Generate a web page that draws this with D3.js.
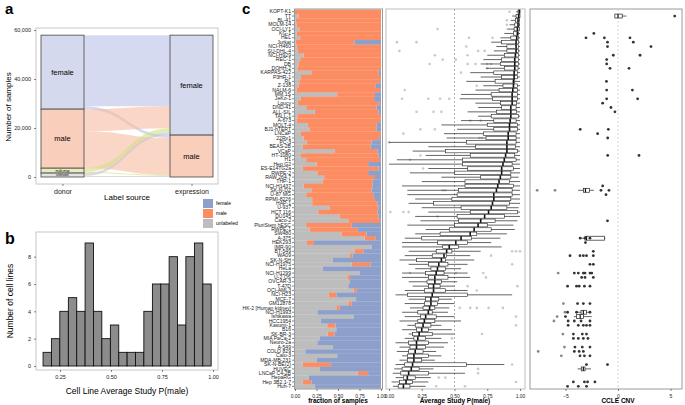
<!DOCTYPE html>
<html>
<head>
<meta charset="utf-8">
<script src="https://cdn.jsdelivr.net/npm/d3@7"></script>
<style>
  body { margin: 0; background: #fff; }
  svg { font-family: "Liberation Sans", Arial, sans-serif; }
</style>
</head>
<body>
<svg id="fig" width="685" height="405"></svg>
<script>
// ---------- panel a : alluvial of sex labels ----------
const axisSources = ["donor", "expression"];
const donorLevels = ["female", "male", "multi-map", "unknown"];
const exprLevels = ["female", "male"];
const flowFrom = ["female", "female", "male", "male", "multi-map", "multi-map", "unknown", "unknown"];
const flowTo = ["female", "male", "female", "male", "female", "male", "female", "male"];
const flowValue = [29000, 1200, 9000, 15100, 1600, 400, 1200, 400];
const aTicks = [0, 20000, 40000, 60000];

// ---------- panel b : histogram ----------
const binEdges = [0.167, 0.208, 0.249, 0.291, 0.332, 0.373, 0.414, 0.455, 0.497, 0.538, 0.579,
                  0.620, 0.661, 0.703, 0.744, 0.785, 0.826, 0.867, 0.909, 0.950, 0.991];
const binCounts = [1, 2, 4, 5, 4, 9, 4, 2, 3, 1, 1, 1, 4, 6, 6, 8, 3, 8, 9, 6];
const bXTicks = [0.25, 0.50, 0.75, 1.00];
const bYTicks = [0, 2, 4, 6, 8];

// ---------- panel c : per cell line ----------
const cellLines = ["KOPT-K1","TT","BL-41","MOLM-14","OCI-LY1","KG-1","HEL","Jurkat","NCI-H460","SU-DHL-4",
  "NCI-H929","REC-1","DB","DOHH-2","KARPAS-422","P3HR-1","RL","Z-138","NALM-6","MM.1S",
  "JeKo-1","Loucy","DND-41","ALL-SIL","TALL-1","A-673","MOLT-4","BJ1-hTERT","LNCaP","22Rv1",
  "PC-3","BEAS-2B","VCaP","HT-1080","H1","Hep G2","ES-E14TG2a","RWPE-2","RAW 264.7","THP-1",
  "NCI-H1437","SK-N-DZ","U-87 MG","RPMI-8226","HAP-1","U-937","HCT 116","DU145","Caco-2","PluriStem hESC",
  "RWPE-1","SW480","A-375","HEK293","IMR-90","BT-549","WA09","SK-N-SH","NCI-H1975","HeLa",
  "NCI-H1299","U-2 OS","OVCAR-3","T-47D","OCI-AML3","NCI-H23","MCF-7","GM12878","HK-2 [Human kidney]","NCI-H1993",
  "Ishikawa","HCC1954","Kasumi-1","B16","SK-BR-3","MIA PaCa-2","Neuro-2a","A-549","COLO 829","Calu-3",
  "MDA-MB-231","SK-N-BE(2)","HUVEC","LNCaP C4-2B","HepaRG","Hep 3B2.1-7","Huh-7"];

const fracUnlabeled = [.00,.04,.01,.02,.05,.02,.06,.01,.02,.03, .10,.06,.04,.03,.19,.07,.05,.04,.02,.49,
  .07,.03,.13,.23,.03,.02,.15,.17,.07,.10, .14,.09,.46,.07,.13,.25,.09,.26,.34,.32,
  .10,.19,.13,.20,.20,.40,.27,.52,.62,.13, .17,.54,.81,.14,.89,.69,.64,.44,.66,.32,
  .75,.61,.64,.62,.68,.39,.71,.62,.48,.26, .68,.30,.375,.48,.38,.29,.26,.44,.12,.49,
  .25,.09,.29,.73,.16,.09,.23];
const fracMale = [1.00,.96,.99,.98,.95,.98,.94,.68,.98,.97, .90,.94,.96,.97,.78,.93,.94,.90,.97,.44,
  .85,.95,.82,.74,.97,.97,.80,.78,.93,.88, .75,.79,.50,.90,.86,.60,.88,.59,.59,.58,
  .80,.70,.78,.73,.76,.57,.69,.45,.37,.53, .56,.29,.13,.08,.00,.11,.03,.00,.22,.00,
  .00,.03,.00,.00,.04,.09,.00,.04,.04,.00, .00,.00,.095,.00,.08,.00,.00,.00,.00,.00,
  .00,.33,.00,.12,.00,.10,.00];
const fracFemale = [0,0,0,0,0,0,0,.31,0,0, 0,0,0,0,.03,0,.01,.06,.01,.07,
  .08,.02,.05,.03,0,.01,.05,.05,0,.02, .11,.12,.04,.03,.01,.15,.03,.15,.07,.10,
  .10,.11,.09,.07,.04,.03,.04,.03,.01,.34, .27,.17,.06,.78,.11,.20,.33,.56,.12,.68,
  .25,.36,.36,.38,.28,.52,.29,.34,.48,.74, .32,.70,.53,.52,.54,.71,.74,.56,.88,.51,
  .75,.58,.71,.15,.84,.81,.77];

const boxLo = [.97,.94,.93,.92,.90,.88,.85,.78,.82,.80, .75,.72,.70,.74,.62,.70,.59,.72,.66,.55,
  .54,.66,.68,.60,.68,.55,.40,.52,.42,.44, .00,.30,.18,.28,.06,.00,.30,.16,.40,.25,
  .10,.14,.14,.20,.15,.25,.30,.20,.24,.14, .28,.20,.12,.10,.10,.15,.12,.08,.15,.20,
  .10,.10,.15,.18,.12,.05,.15,.12,.16,.10, .12,.08,.14,.10,.15,.12,.05,.08,.06,.10,
  .08,.05,.04,.03,.05,.02,.03];
const boxQ1 = [.985,.97,.965,.96,.955,.95,.93,.86,.90,.90, .88,.86,.85,.88,.80,.86,.81,.87,.84,.78,
  .79,.85,.86,.82,.78,.80,.75,.80,.72,.74, .59,.66,.43,.62,.56,.56,.60,.50,.70,.58,
  .58,.53,.52,.48,.34,.55,.62,.52,.53,.50, .46,.39,.25,.37,.41,.36,.33,.21,.30,.32,
  .28,.30,.29,.30,.27,.14,.28,.27,.26,.22, .24,.22,.20,.21,.18,.19,.15,.16,.15,.14,
  .14,.12,.10,.09,.11,.08,.07];
const boxMed = [.995,.99,.985,.985,.98,.98,.975,.97,.97,.97, .965,.96,.96,.96,.955,.955,.95,.95,.945,.94,
  .94,.94,.93,.93,.93,.925,.92,.92,.91,.91, .90,.90,.90,.89,.88,.87,.86,.86,.85,.84,
  .83,.82,.80,.80,.79,.78,.76,.73,.70,.68, .65,.62,.55,.51,.46,.44,.42,.40,.38,.37,
  .36,.35,.35,.34,.34,.33,.32,.32,.31,.30, .28,.27,.26,.25,.23,.22,.21,.21,.20,.19,
  .19,.18,.17,.15,.14,.13,.11];
const boxQ3 = [1.0,1.0,.995,.995,.995,.99,.99,.99,.99,.99, .99,.99,.99,.985,.98,.98,.96,.98,.98,.98,
  .98,.975,.97,.975,.99,.97,.98,.98,.97,.97, .97,.965,.98,.96,.97,.94,.95,.93,.93,.92,
  .95,.94,.94,.93,.92,.90,.98,.88,.81,.75, .78,.67,.63,.60,.53,.48,.44,.43,.45,.43,
  .42,.45,.40,.39,.43,.60,.38,.37,.35,.33, .36,.35,.32,.30,.33,.28,.30,.28,.26,.30,
  .25,.59,.23,.30,.20,.18,.16];
const boxHi = [1,1,1,1,1,1,1,1,1,1, 1,1,1,1,1,1,1,1,1,1, 1,1,1,1,1,1,1,1,1,1,
  1,1,1,1,1,1,1,1,.99,1, 1,1,1,1,1,.99,1,1,.98,.95, .96,.90,.85,.78,.86,.70,.62,.65,.60,.55,
  .60,.62,.52,.50,.60,.94,.48,.50,.46,.45, .50,.55,.40,.48,.50,.40,.45,.42,.36,.40,
  .35,.88,.34,.58,.32,.30,.28];
// study-level outliers: [row, P(male)]
const boxOutliers = [[0,.92],[2,.90],[3,.90],[4,.37],[6,.61],[6,.79],[7,.06],[7,.21],[8,.59],[9,.08],
  [9,.68],[9,.73],[10,.35],[10,.60],[11,.41],[11,.51],[12,.31],[12,.60],[12,.66],[12,.75],[12,.78],
  [13,.75],[14,.55],[17,.67],[18,.12],[20,.10],[20,.30],[20,.39],[20,.46],[23,.21],[23,.34],[23,.40],
  [25,.62],[25,.70],[27,.24],[27,.35],[28,.11],[29,.69],[29,.71],[30,.00],[33,.24],[34,.16],[36,.26],
  [41,.41],[41,.43],[46,.01],[46,.11],[46,.15],[47,.37],[55,.94],[55,.97],[55,1.0],[56,.78],[58,.94],
  [60,.16],[60,.51],[60,.72],[61,.74],[63,.60],[63,.98],[64,.67],[68,.54],[68,.62],[68,.67],[68,.76],
  [68,.87],[70,.97],[72,.97],[74,.71],[75,.48],[81,.94],[82,.68],[83,.68],[84,.38],[84,.43],[85,.97],
  [86,.36],[86,.58]];

// CCLE copy number of chrY genes: [row, CNV]
const cnvPoints = [[1,5.4],[5,-2.3],[6,-3.05],[6,-1.3],[6,1.14],[7,-1.0],[7,1.46],[8,-1.0],[8,3.14],
  [10,-0.45],[10,2.1],[11,-1.08],[12,-1.08],[13,-0.76],[13,1.05],[16,-1.1],[18,-1.08],[18,1.37],
  [20,-1.08],[20,1.87],[21,-1.46],[22,-0.67],[23,-0.29],[27,-3.6],[27,-0.92],[28,-1.94],[29,-0.98],
  [33,-0.98],[33,2.0],[40,-1.46],[41,-7.7],[41,-6.0],[41,-1.62],[41,-0.86],[42,-1.14],[48,-1.0],
  [52,-3.6],[52,-3.14],[52,-2.67],[53,-3.1],[55,-2.35],[56,-4.57],[56,-3.62],[56,-3.3],[56,-3.0],
  [56,-2.35],[58,-2.67],[58,-2.35],[60,-5.7],[60,-4.16],[60,-3.78],[60,-3.3],[60,-3.14],[60,-2.67],
  [60,-2.5],[61,-3.46],[61,-3.14],[61,-2.35],[63,-4.8],[63,-3.95],[63,-3.7],[63,-3.2],[63,-2.67],
  [67,-5.2],[67,-3.85],[67,-3.3],[67,-2.67],[69,-5.05],[69,-4.8],[69,-3.95],[69,-2.67],[70,-5.8],
  [70,-5.0],[71,-6.1],[71,-4.75],[71,-4.16],[71,-3.52],[71,-2.67],[72,-4.75],[72,-3.78],[72,-3.3],
  [72,-3.0],[72,-2.67],[74,-5.25],[74,-4.25],[74,-3.4],[74,-3.0],[75,-4.25],[75,-3.78],[75,-3.3],
  [75,-2.86],[77,-5.1],[77,-4.1],[77,-3.4],[77,-2.67],[78,-7.6],[78,-4.16],[78,-3.7],[78,-3.3],
  [79,-5.4],[79,-3.62],[79,-3.2],[79,-2.67],[81,-3.0],[81,-1.0],[85,-4.25],[85,-3.2],[85,-2.9],
  [85,-2.2],[86,-4.8],[86,-3.78],[86,-3.0]];
// rows where CNV box is visible: [row, lo, q1, median, q3, hi]
const cnvBoxes = [[1,-0.3,-0.3,0.0,0.4,0.8],[41,-3.8,-3.3,-3.1,-2.7,-2.3],[52,-3.5,-3.14,-3.0,-1.3,-1.2],
  [69,-4.0,-3.52,-3.3,-3.0,-2.7],[70,-4.2,-3.95,-3.6,-3.3,-2.5],[82,-3.85,-3.5,-3.3,-3.14,-2.57]];
const cnvTicks = [-5, 0, 5];
const fracTicks = [0, 0.25, 0.5, 0.75, 1];

const sexColor = {female: "#8da0cb", male: "#fc8d62", unlabeled: "#bdbdbd"};

const svg = d3.select("#fig");
svg.append("rect").attr("width", 685).attr("height", 405).attr("fill", "#fff");

function styleAxis(g, size) {
  g.select(".domain").remove();
  g.selectAll(".tick line").attr("stroke", "#333").attr("stroke-width", 0.6);
  g.selectAll(".tick text").attr("font-size", size).attr("fill", "#222")
    .attr("font-family", '"Liberation Sans", Arial, sans-serif');
}
function frame(x0, y0, x1, y1, col) {
  svg.append("rect").attr("x", x0).attr("y", y0).attr("width", x1 - x0).attr("height", y1 - y0)
    .attr("fill", "none").attr("stroke", col || "#bdbdbd").attr("stroke-width", 1);
}
function panelLetter(t, x, y, size) {
  svg.append("text").attr("x", x).attr("y", y).text(t)
    .attr("font-size", size).attr("font-weight", "bold");
}

// ================= panel a =================
panelLetter("a", 5, 14, 15);
const yA = d3.scaleLinear().domain([0, 60000]).range([177, 30]);
const xA = d3.scalePoint().domain(axisSources).range([62.5, 191.5]);
const STRAT_W = 43;
const stratFill = {"female": "#d5d9ee", "male": "#f9cebb", "multi-map": "#e6ecbd", "unknown": "#e3e3e3"};
const flowFill = {"female": "#b9c2e6", "male": "#f7bba2", "multi-map": "#d3df7e", "unknown": "#c4c4c4"};

const flows = flowFrom.map((f, i) => ({from: f, to: flowTo[i], value: flowValue[i]}));
const total = d3.sum(flowValue);
function stackLevels(levels, key) {
  const pos = {};
  let cur = total;
  levels.forEach(l => {
    const v = d3.sum(flows.filter(f => f[key] === l), f => f.value);
    pos[l] = {top: cur, bottom: cur - v};
    cur -= v;
  });
  return pos;
}
const donorPos = stackLevels(donorLevels, "from");
const exprPos = stackLevels(exprLevels, "to");

const lc = {}; donorLevels.forEach(l => lc[l] = donorPos[l].top);
flows.slice().sort((a, b) => donorLevels.indexOf(a.from) - donorLevels.indexOf(b.from) ||
    exprLevels.indexOf(a.to) - exprLevels.indexOf(b.to))
  .forEach(f => { f.l0 = lc[f.from]; f.l1 = f.l0 - f.value; lc[f.from] = f.l1; });
const rc = {}; exprLevels.forEach(l => rc[l] = exprPos[l].top);
flows.slice().sort((a, b) => exprLevels.indexOf(a.to) - exprLevels.indexOf(b.to) ||
    donorLevels.indexOf(a.from) - donorLevels.indexOf(b.from))
  .forEach(f => { f.r0 = rc[f.to]; f.r1 = f.r0 - f.value; rc[f.to] = f.r1; });

frame(36, 28, 218, 184, "#c8c8c8");
const fx0 = xA("donor") + STRAT_W / 2, fx1 = xA("expression") - STRAT_W / 2, fxm = (fx0 + fx1) / 2;
svg.append("g").selectAll("path").data(flows).join("path")
  .attr("d", f => `M${fx0},${yA(f.l0)}C${fxm},${yA(f.l0)} ${fxm},${yA(f.r0)} ${fx1},${yA(f.r0)}` +
    `L${fx1},${yA(f.r1)}C${fxm},${yA(f.r1)} ${fxm},${yA(f.l1)} ${fx0},${yA(f.l1)}Z`)
  .attr("fill", f => flowFill[f.from]).attr("fill-opacity", 0.6).attr("stroke", "none");

const strata = donorLevels.map(l => ({axis: "donor", level: l, ...donorPos[l]}))
  .concat(exprLevels.map(l => ({axis: "expression", level: l, ...exprPos[l]})));
svg.append("g").selectAll("rect").data(strata).join("rect")
  .attr("x", d => xA(d.axis) - STRAT_W / 2).attr("width", STRAT_W)
  .attr("y", d => yA(d.top)).attr("height", d => yA(d.bottom) - yA(d.top))
  .attr("fill", d => stratFill[d.level]).attr("stroke", "#444").attr("stroke-width", 0.8);
svg.append("g").selectAll("text").data(strata).join("text")
  .attr("x", d => xA(d.axis)).attr("y", d => yA((d.top + d.bottom) / 2))
  .attr("dy", "0.35em").attr("text-anchor", "middle")
  .attr("font-size", d => (d.top - d.bottom) > 5000 ? 7.5 : 3.2)
  .text(d => d.level);

const gAy = svg.append("g").attr("transform", "translate(36,0)")
  .call(d3.axisLeft(yA).tickValues(aTicks).tickFormat(d3.format(",")).tickSize(2));
styleAxis(gAy, 5.5);
const gAx = svg.append("g").attr("transform", "translate(0,184)")
  .call(d3.axisBottom(xA).tickSize(2));
styleAxis(gAx, 7);
svg.append("text").attr("x", 127).attr("y", 200).attr("text-anchor", "middle")
  .attr("font-size", 8).text("Label source");
svg.append("text").attr("transform", "translate(11,107) rotate(-90)").attr("text-anchor", "middle")
  .attr("font-size", 8).text("Number of samples");

// legend for panel c fill
const legendKeys = ["female", "male", "unlabeled"];
const lg = svg.append("g").selectAll("g").data(legendKeys).join("g")
  .attr("transform", (d, i) => `translate(203,${199 + i * 10})`);
lg.append("rect").attr("width", 10).attr("height", 9).attr("fill", d => sexColor[d]);
lg.append("text").attr("x", 13).attr("y", 6).attr("font-size", 5).text(d => d);

// ================= panel b =================
panelLetter("b", 5, 244, 16);
const xB = d3.scaleLinear().domain([0.25, 1]).range([60, 213]);
const yB = d3.scaleLinear().domain([0, 9]).range([366, 243]);
frame(36, 232, 218, 370, "#c8c8c8");
svg.append("g").selectAll("rect").data(binCounts).join("rect")
  .attr("x", (d, i) => xB(binEdges[i])).attr("width", (d, i) => xB(binEdges[i + 1]) - xB(binEdges[i]))
  .attr("y", d => yB(d)).attr("height", d => yB(0) - yB(d))
  .attr("fill", "#8c8c8c").attr("stroke", "#111").attr("stroke-width", 0.9);
const gBy = svg.append("g").attr("transform", "translate(36,0)")
  .call(d3.axisLeft(yB).tickValues(bYTicks).tickSize(2));
styleAxis(gBy, 5.5);
const gBx = svg.append("g").attr("transform", "translate(0,370)")
  .call(d3.axisBottom(xB).tickValues(bXTicks).tickFormat(d3.format(".2f")).tickSize(2));
styleAxis(gBx, 5.5);
svg.append("text").attr("x", 127).attr("y", 394).attr("text-anchor", "middle")
  .attr("font-size", 8.5).text("Cell Line Average Study P(male)");
svg.append("text").attr("transform", "translate(13,301) rotate(-90)").attr("text-anchor", "middle")
  .attr("font-size", 8.5).text("Number of cell lines");

// ================= panel c =================
panelLetter("c", 242, 14, 15);
const yC = d3.scaleBand().domain(cellLines).range([9.5, 388.5]);
const bw = yC.bandwidth();

// c1: stacked fractions
const xC1 = d3.scaleLinear().domain([0, 1]).range([295, 381]);
const fracRows = cellLines.map((c, i) => ({cell: c, unlabeled: fracUnlabeled[i], male: fracMale[i], female: fracFemale[i]}));
const stacked = d3.stack().keys(["unlabeled", "male", "female"])(fracRows);
svg.append("g").selectAll("g").data(stacked).join("g")
  .attr("fill", s => sexColor[s.key])
  .selectAll("rect").data(s => s).join("rect")
  .attr("x", d => xC1(d[0])).attr("width", d => Math.max(0, xC1(d[1]) - xC1(d[0])))
  .attr("y", d => yC(d.data.cell)).attr("height", bw + 0.2);
frame(294.5, 9, 382.5, 389, "#9a9a9a");
const gCy = svg.append("g").attr("transform", "translate(294,0)")
  .call(d3.axisLeft(yC).tickSize(2).tickPadding(1));
styleAxis(gCy, 5.1);
const gC1x = svg.append("g").attr("transform", "translate(0,389)")
  .call(d3.axisBottom(xC1).tickValues(fracTicks).tickFormat(d3.format(".2f")).tickSize(2));
styleAxis(gC1x, 5);
svg.append("text").attr("x", 338).attr("y", 403).attr("text-anchor", "middle")
  .attr("font-size", 6.5).attr("font-weight", "bold").text("fraction of samples");

// c2: study-level P(male) boxplots
const xC2 = d3.scaleLinear().domain([0, 1]).range([389, 520]);
frame(386, 9, 525, 389, "#bdbdbd");
svg.append("line").attr("x1", xC2(0.5)).attr("x2", xC2(0.5)).attr("y1", 9).attr("y2", 389)
  .attr("stroke", "#999").attr("stroke-width", 0.8).attr("stroke-dasharray", "2,2");
svg.append("g").selectAll("circle").data(boxOutliers).join("circle")
  .attr("cx", d => xC2(d[1])).attr("cy", d => yC(cellLines[d[0]]) + bw / 2).attr("r", 1.3)
  .attr("fill", "#bbb").attr("fill-opacity", 0.8);
const gBox = svg.append("g").selectAll("g").data(cellLines).join("g")
  .attr("transform", c => `translate(0,${yC(c) + bw / 2})`);
gBox.append("line").attr("x1", (c, i) => xC2(boxLo[i])).attr("x2", (c, i) => xC2(boxHi[i]))
  .attr("stroke", "#222").attr("stroke-width", 0.7);
gBox.append("rect").attr("x", (c, i) => xC2(boxQ1[i])).attr("width", (c, i) => xC2(boxQ3[i]) - xC2(boxQ1[i]))
  .attr("y", -bw * 0.4).attr("height", bw * 0.8)
  .attr("fill", "#fff").attr("stroke", "#222").attr("stroke-width", 0.6);
gBox.append("line").attr("x1", (c, i) => xC2(boxMed[i])).attr("x2", (c, i) => xC2(boxMed[i]))
  .attr("y1", -bw * 0.45).attr("y2", bw * 0.45).attr("stroke", "#111").attr("stroke-width", 1.6);
const gC2x = svg.append("g").attr("transform", "translate(0,389)")
  .call(d3.axisBottom(xC2).tickValues(fracTicks).tickFormat(d3.format(".2f")).tickSize(2));
styleAxis(gC2x, 5);
svg.append("text").attr("x", 455).attr("y", 403).attr("text-anchor", "middle")
  .attr("font-size", 6.5).attr("font-weight", "bold").text("Average Study P(male)");

// c3: CCLE CNV
const xC3 = d3.scaleLinear().domain([-5, 5]).range([565.5, 670.5]);
frame(530, 9, 682, 389, "#9a9a9a");
svg.append("line").attr("x1", xC3(0)).attr("x2", xC3(0)).attr("y1", 9).attr("y2", 389)
  .attr("stroke", "#ccc").attr("stroke-width", 0.8).attr("stroke-dasharray", "2,2");
const gCnvBox = svg.append("g").selectAll("g").data(cnvBoxes).join("g")
  .attr("transform", d => `translate(0,${yC(cellLines[d[0]]) + bw / 2})`);
gCnvBox.append("line").attr("x1", d => xC3(d[1])).attr("x2", d => xC3(d[5]))
  .attr("stroke", "#222").attr("stroke-width", 0.7);
gCnvBox.append("rect").attr("x", d => xC3(d[2])).attr("width", d => xC3(d[4]) - xC3(d[2]))
  .attr("y", -bw * 0.45).attr("height", bw * 0.9)
  .attr("fill", "#fff").attr("stroke", "#222").attr("stroke-width", 0.7);
gCnvBox.append("line").attr("x1", d => xC3(d[3])).attr("x2", d => xC3(d[3]))
  .attr("y1", -bw * 0.45).attr("y2", bw * 0.45).attr("stroke", "#111").attr("stroke-width", 1.2);
svg.append("g").selectAll("circle").data(cnvPoints).join("circle")
  .attr("cx", d => xC3(d[1])).attr("cy", d => yC(cellLines[d[0]]) + bw / 2).attr("r", 1.4)
  .attr("fill", d => d[1] < -5 ? "#888" : "#333");
const gC3x = svg.append("g").attr("transform", "translate(0,389)")
  .call(d3.axisBottom(xC3).tickValues(cnvTicks).tickSize(2));
styleAxis(gC3x, 5);
svg.append("text").attr("x", 618).attr("y", 403).attr("text-anchor", "middle")
  .attr("font-size", 6.5).attr("font-weight", "bold").text("CCLE CNV");
</script>
</body>
</html>
